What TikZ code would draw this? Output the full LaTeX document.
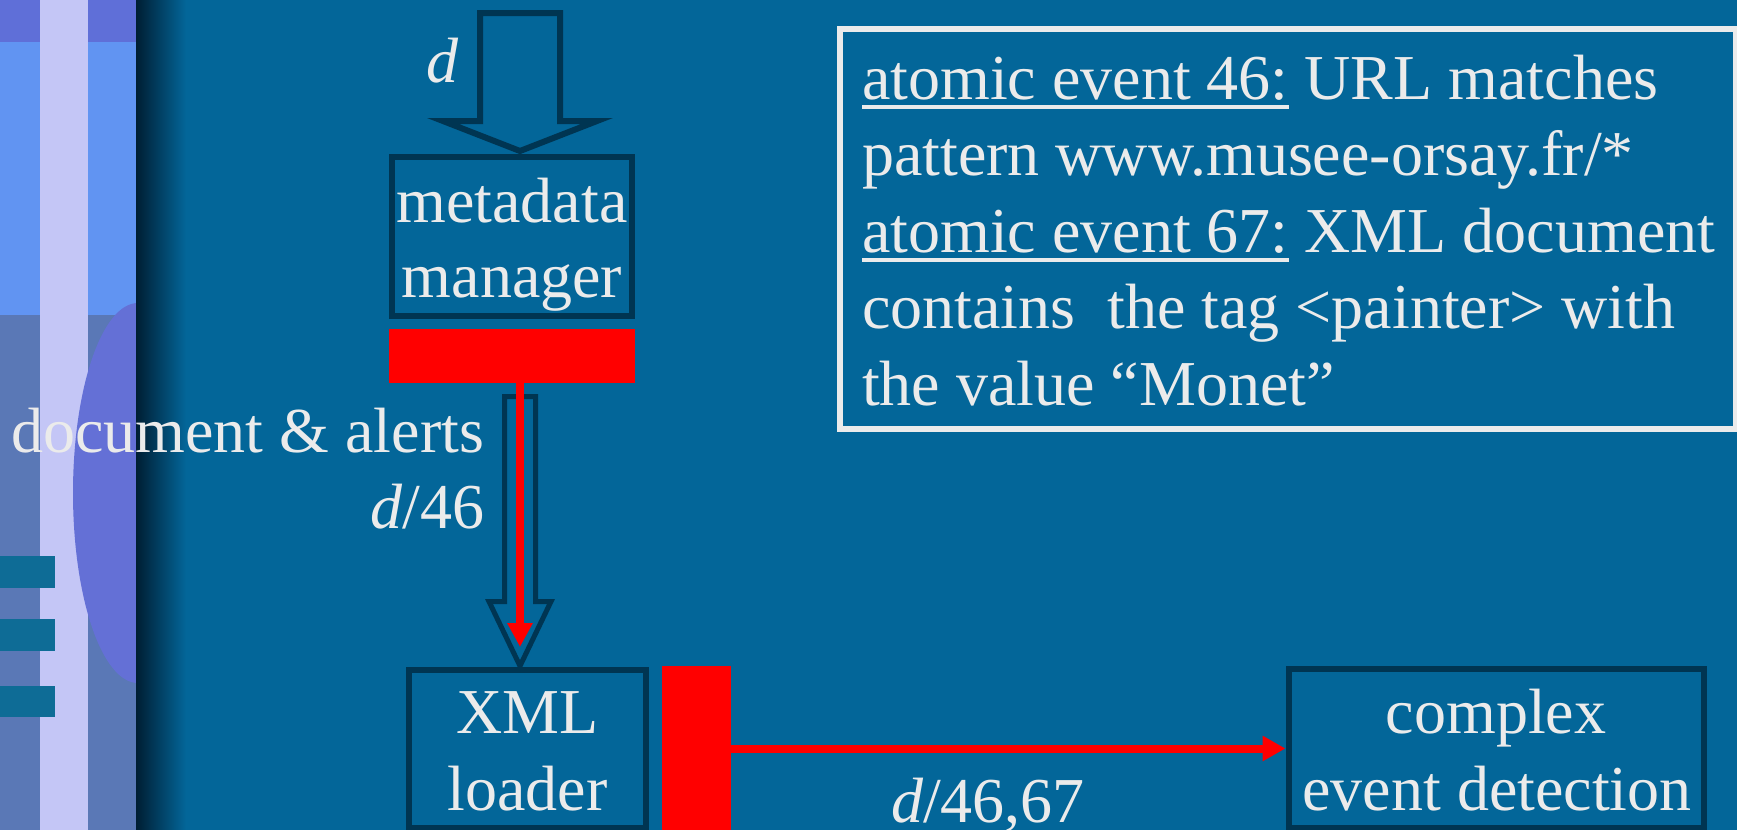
\documentclass[tikz,border=0pt]{standalone}
\usepackage{fontspec}
\setmainfont{Liberation Serif}
\usetikzlibrary{arrows.meta}
\definecolor{bg}{HTML}{036699}
\definecolor{dk}{HTML}{003552}
\definecolor{tx}{HTML}{EBEBEB}
\definecolor{rd}{HTML}{FF0000}
\definecolor{stripA}{HTML}{5F6FD8}
\definecolor{stripB}{HTML}{6194F2}
\definecolor{stripC}{HTML}{5A78B6}
\definecolor{stripL}{HTML}{C4C6F6}
\definecolor{stripE}{HTML}{6470D6}
\definecolor{stripT}{HTML}{0E6C96}
\definecolor{shadow}{HTML}{001E33}
\newcommand{\evul}[1]{\setbox0\hbox{#1}\rlap{\rule[-4.8pt]{\wd0}{1.6pt}}\box0\relax}
\begin{document}
\begin{tikzpicture}[x=0.5pt,y=-0.5pt,
  lbl/.style={text=tx,font=\fontsize{32pt}{38pt}\selectfont,inner sep=0pt,outer sep=0pt},
  procbox/.style={draw=dk,line width=3pt,inner sep=0pt},
  redbar/.style={fill=rd,inner sep=0pt,outer sep=0pt},
  hollow/.style={draw=dk,line join=miter},
  redarrow/.style={draw=rd,line width=4pt}]
% background
\fill[bg] (0,0) rectangle (1737,830);
\useasboundingbox (0,0) rectangle (1737,830);
% left decorative strip
\fill[stripC] (0,0) rectangle (136,830);
\fill[stripB] (0,42) rectangle (136,315);
\fill[stripA] (0,0) rectangle (136,42);
\fill[stripL] (40,0) rectangle (88,830);
\begin{scope}
  \clip (0,0) rectangle (136,830);
  \fill[stripE] (138,493) ellipse [x radius=32.5pt, y radius=95pt];
\end{scope}
\fill[stripT] (0,556) rectangle (55,588);
\fill[stripT] (0,619) rectangle (55,651);
\fill[stripT] (0,686) rectangle (55,717);
\shade[left color=shadow, right color=bg] (136,0) rectangle (186,830);
% event description box
\node[draw=tx, line width=3pt, inner sep=0pt, minimum width=448pt, minimum height=200pt] (evbox) at (1288,229) {};
\node[lbl,anchor=base west] (ev1) at (862,99) {\evul{atomic event 46:} URL matches};
\node[lbl,anchor=base west] (ev2) at (862,175) {pattern www.musee-orsay.fr/*};
\node[lbl,anchor=base west] (ev3) at (862,252) {\evul{atomic event 67:} XML document};
\node[lbl,anchor=base west] (ev4) at (862,328) {contains\ \ the tag <painter> with};
\node[lbl,anchor=base west] (ev5) at (862,405) {the value “Monet”};
% top hollow arrow
\draw[hollow, line width=3pt] (480,13) -- (560,13) -- (560,121) -- (597,121) -- (520,151) -- (443,121) -- (480,121) -- cycle;
\node[lbl,anchor=base west] (din) at (426,83) {\textit{d}};
% metadata manager
\node[procbox, minimum width=120pt, minimum height=79.5pt] (meta) at (512,236.5) {};
\node[lbl,anchor=base] (meta1) at (512,222) {metadata};
\node[lbl,anchor=base] (meta2) at (512,297) {manager};
\node[redbar, minimum width=123pt, minimum height=27pt] (bar1) at (512,356) {};
% second hollow arrow
\draw[hollow, line width=2.5pt] (504.5,396.5) -- (535.5,396.5) -- (535.5,601.5) -- (551,601.5) -- (520,666) -- (489,601.5) -- (504.5,601.5) -- cycle;
\coordinate (a2tip) at (520,647);
\draw[redarrow, -{Triangle[length=12pt,width=12pt]}] (bar1.south -| a2tip) -- (a2tip);
\node[lbl,anchor=base east] (docal) at (484,452) {document \& alerts};
\node[lbl,anchor=base east] (d46) at (484,528) {\textit{d}/46};
% XML loader
\node[procbox, minimum width=118.5pt, minimum height=79pt] (xml) at (527.5,749) {};
\node[lbl,anchor=base] (xml1) at (527.5,733) {XML};
\node[lbl,anchor=base] (xml2) at (527.5,810) {loader};
\node[redbar, minimum width=34.5pt, minimum height=83pt] (bar2) at (696.5,749) {};
% complex event detection
\node[procbox, minimum width=207.75pt, minimum height=79.5pt] (ced) at (1496.25,748.5) {};
\node[lbl,anchor=base] (ced1) at (1496,733) {complex};
\node[lbl,anchor=base] (ced2) at (1497,810) {event detection};
\draw[redarrow, -{Triangle[length=11.5pt,width=12pt]}] (bar2.east |- ced.west) -- (ced.west);
\node[lbl,anchor=base west] (d4667) at (891,822) {\textit{d}/46,67};
\end{tikzpicture}
\end{document}
